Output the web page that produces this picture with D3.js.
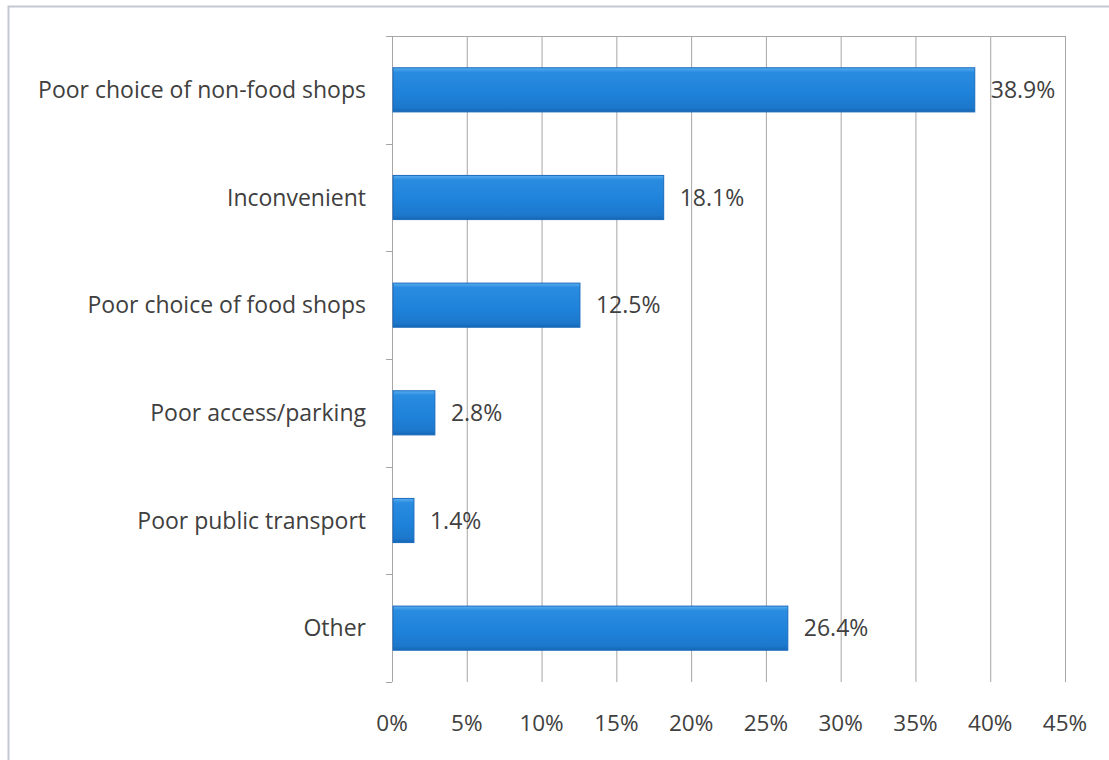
<!DOCTYPE html>
<html>
<head>
<meta charset="utf-8">
<script src="https://cdn.jsdelivr.net/npm/d3@7"></script>
<style>
  html, body { margin: 0; padding: 0; background: #fff; }
  svg { display: block; }
  text { font-family: "Open Sans", Lato, sans-serif; fill: #404040; }
</style>
</head>
<body>
<svg id="chart" width="1109" height="760"></svg>
<script>
// Reasons given, top to bottom
const categories = [
  "Poor choice of non-food shops",
  "Inconvenient",
  "Poor choice of food shops",
  "Poor access/parking",
  "Poor public transport",
  "Other"
];
// Share of respondents (%)
const values = [38.9, 18.1, 12.5, 2.8, 1.4, 26.4];
// Horizontal axis ticks (%)
const xTicks = [0, 5, 10, 15, 20, 25, 30, 35, 40, 45];

const svg = d3.select("#chart");
const W = 1109, H = 760;
const plot = { left: 392, right: 1065, top: 36, bottom: 682 };

// Outer frame (extends past the right and bottom edges)
svg.append("rect")
  .attr("x", 8.5).attr("y", 6.5)
  .attr("width", W + 20).attr("height", H + 20)
  .attr("fill", "none")
  .attr("stroke", "#c4c7d4")
  .attr("stroke-width", 2);

const x = d3.scaleLinear().domain([0, 45]).range([plot.left, plot.right]);
const y = d3.scaleBand().domain(categories).range([plot.top, plot.bottom]).paddingInner(0.59).paddingOuter(0.295);
const yEdges = d3.scaleBand().domain(categories).range([plot.top, plot.bottom]);

// Bar gradient for the bevelled look
const defs = svg.append("defs");
const grad = defs.append("linearGradient").attr("id", "barGrad")
  .attr("x1", 0).attr("y1", 0).attr("x2", 0).attr("y2", 1);
grad.append("stop").attr("offset", "0%").attr("stop-color", "#5aaef0");
grad.append("stop").attr("offset", "10%").attr("stop-color", "#2a8ce0");
grad.append("stop").attr("offset", "55%").attr("stop-color", "#1f83db");
grad.append("stop").attr("offset", "90%").attr("stop-color", "#1c78cc");
grad.append("stop").attr("offset", "100%").attr("stop-color", "#1666b4");

// Vertical gridlines
svg.append("g").selectAll("line")
  .data(xTicks.filter(t => t > 0))
  .join("line")
  .attr("x1", d => x(d) + 0.5).attr("x2", d => x(d) + 0.5)
  .attr("y1", plot.top).attr("y2", plot.bottom)
  .attr("stroke", "#a6a6a6").attr("stroke-width", 1);

// Top border line of the plot
svg.append("line")
  .attr("x1", plot.left - 6).attr("x2", plot.right)
  .attr("y1", plot.top + 0.5).attr("y2", plot.top + 0.5)
  .attr("stroke", "#a6a6a6");

// Category axis line with boundary ticks
svg.append("line")
  .attr("x1", plot.left + 0.5).attr("x2", plot.left + 0.5)
  .attr("y1", plot.top).attr("y2", plot.bottom)
  .attr("stroke", "#a6a6a6");
const edges = categories.map(c => yEdges(c)).concat([plot.bottom]);
svg.append("g").selectAll("line")
  .data(edges)
  .join("line")
  .attr("x1", plot.left - 6).attr("x2", plot.left)
  .attr("y1", d => Math.round(d) + 0.5).attr("y2", d => Math.round(d) + 0.5)
  .attr("stroke", "#a6a6a6");

// Bars
svg.append("g").selectAll("rect")
  .data(values)
  .join("rect")
  .attr("x", x(0) + 1)
  .attr("y", (d, i) => y(categories[i]))
  .attr("width", d => x(d) - x(0))
  .attr("height", y.bandwidth())
  .attr("fill", "url(#barGrad)")
  .attr("stroke", "#1a6bbd")
  .attr("stroke-width", 1);

// Value labels
svg.append("g").selectAll("text")
  .data(values)
  .join("text")
  .attr("x", d => x(d) + 17)
  .attr("y", (d, i) => y(categories[i]) + y.bandwidth() / 2)
  .attr("dy", "0.36em")
  .attr("font-size", 23)
  .text(d => d.toFixed(1) + "%");

// Category labels
svg.append("g").selectAll("text")
  .data(categories)
  .join("text")
  .attr("x", 366)
  .attr("y", d => y(d) + y.bandwidth() / 2)
  .attr("dy", "0.36em")
  .attr("text-anchor", "end")
  .attr("font-size", 23)
  .text(d => d);

// Percentage tick labels
svg.append("g").selectAll("text")
  .data(xTicks)
  .join("text")
  .attr("x", d => x(d))
  .attr("y", 723)
  .attr("dy", "0.36em")
  .attr("text-anchor", "middle")
  .attr("font-size", 22.5)
  .text(d => d + "%");
</script>
</body>
</html>
